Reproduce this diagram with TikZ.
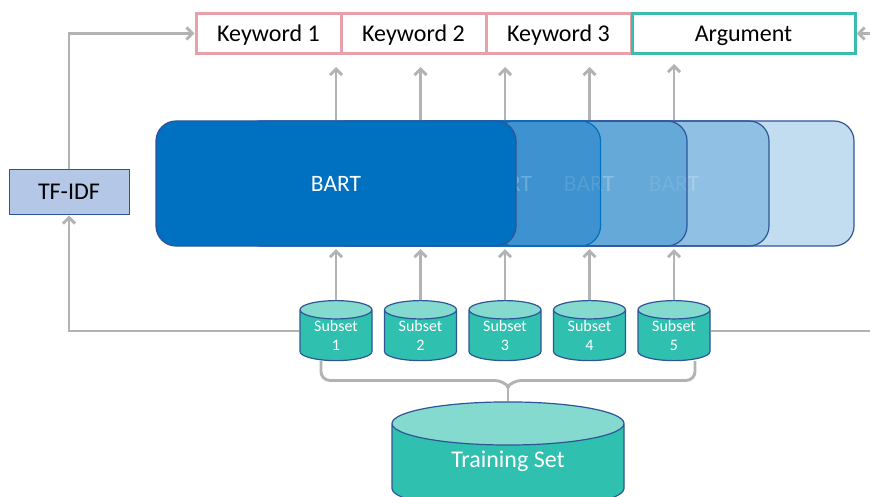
\documentclass[tikz,border=0pt]{standalone}
\usepackage{fontspec}
\setmainfont{Carlito}
\usetikzlibrary{arrows.meta,shapes.geometric,calc}
\definecolor{grayline}{HTML}{B3B3B3}
\definecolor{darkblue}{HTML}{2F5597}
\definecolor{bartblue}{HTML}{0070C0}
\definecolor{pinkb}{HTML}{E8A0AA}
\definecolor{tealb}{HTML}{3CBBAF}
\definecolor{tealbody}{HTML}{30C0B0}
\definecolor{tealtop}{HTML}{84DACF}
\definecolor{tfidf}{HTML}{B4C7E7}
\newcommand{\fsz}[1]{\fontsize{#1}{#1}\selectfont}
\tikzset{
  conn/.style={draw=grayline,line width=2.9pt},
  arr/.style={conn,-{Straight Barb[length=6pt,width=12pt,line width=2.9pt]}},
  kw/.style={draw=pinkb,line width=3pt,fill=white,minimum height=40pt,inner sep=0pt,font=\fsz{24},text=black,text height=17pt,text depth=0pt},
  arg/.style={kw,draw=tealb},
  bartbox/.style={draw=darkblue,line width=1.2pt,rounded corners=20pt,fill=bartblue,minimum width=360pt,minimum height=125pt,inner sep=0pt,text=white,font=\fsz{23.5},text height=16pt,text depth=0pt},
  cyl/.style={cylinder,shape border rotate=90,draw=darkblue,line width=1.2pt,cylinder uses custom fill,cylinder body fill=tealbody,cylinder end fill=tealtop,inner sep=0pt,text=white,align=center},
  subs/.style={cyl,minimum width=72pt,minimum height=60pt,aspect=0.42,font=\fontsize{16}{19}\selectfont},
  train/.style={cyl,minimum width=232pt,minimum height=108pt,aspect=0.38,font=\fsz{24},text height=16pt,text depth=15pt},
  tfbox/.style={draw=darkblue,line width=1pt,fill=tfidf,minimum width=120pt,minimum height=45pt,inner sep=0pt,font=\fsz{24},text=black,text height=15pt,text depth=0pt},
}
\begin{document}
\begin{tikzpicture}[x=1pt,y=-1pt]
\useasboundingbox (0,0) rectangle (870,497);
\clip (0,0) rectangle (870,497);
% keyword row
\node[kw,minimum width=145pt] (k1) at (268.5,33.5) {Keyword 1};
\node[kw,minimum width=145pt] (k2) at (413.5,33.5) {Keyword 2};
\node[kw,minimum width=145pt] (k3) at (558.5,33.5) {Keyword 3};
\node[arg,minimum width=223pt] (ag) at (743.5,33.5) {Argument};
% BART stack
\node[bartbox,fill opacity=.24,text opacity=.5] (b5) at (674,183.5) {BART};
\node[bartbox,fill opacity=.26,text opacity=.5] (b4) at (589,183.5) {BART};
\node[bartbox,fill opacity=.30,text opacity=.5] (b3) at (507,183.5) {BART};
\node[bartbox,fill opacity=.40,draw=bartblue] (b2) at (420.5,183.5) {BART};
\node[bartbox] (b1) at (336,183.5) {BART};
% TF-IDF
\node[tfbox] (tf) at (69,192.5) {TF-IDF};
% subsets
\node[subs] (s1) at (336,335.5) {Subset\\1};
\node[subs] (s2) at (420.5,335.5) {Subset\\2};
\node[subs] (s3) at (505,335.5) {Subset\\3};
\node[subs] (s4) at (589.5,335.5) {Subset\\4};
\node[subs] (s5) at (674,335.5) {Subset\\5};
\node[train] (ts) at (508,467) {Training Set};
% free ends
\coordinate (eR) at (870,331);
\coordinate (eT) at (870,33.5);
\coordinate (cnr) at (69,331);
\coordinate (cnt) at (69,33.5);
\coordinate (w1) at (336,331);
\coordinate (br1) at (321,380.5);
\coordinate (br5) at (695,380.5);
\coordinate (tipL) at (504,380.5);
\coordinate (tipR) at (512,380.5);
\coordinate (mid) at (508,386);
% arrows BART to keywords
\draw[arr,shorten >=12pt] (s1.north |- b1.north) -- (s1.north |- k1.south);
\draw[arr,shorten >=12pt] (s2.north |- b1.north) -- (s2.north |- k1.south);
\draw[arr,shorten >=12pt] (s3.north |- b1.north) -- (s3.north |- k1.south);
\draw[arr,shorten >=12pt] (s4.north |- b1.north) -- (s4.north |- k1.south);
\draw[arr,shorten >=9pt] (s5.north |- b1.north) -- (s5.north |- ag.south);
% subsets to BART
\draw[arr,shorten >=2.5pt] (s1.north) -- (s1.north |- b1.south);
\draw[arr,shorten >=2.5pt] (s2.north) -- (s2.north |- b1.south);
\draw[arr,shorten >=2.5pt] (s3.north) -- (s3.north |- b1.south);
\draw[arr,shorten >=2.5pt] (s4.north) -- (s4.north |- b1.south);
\draw[arr,shorten >=2.5pt] (s5.north) -- (s5.north |- b1.south);
% TF-IDF routes
\draw[arr] (s1.west |- w1) -- (cnr) -- (tf.south);
\draw[arr] (tf.north) -- (cnt) -- (k1.west);
\draw[conn] (s5.east |- w1) -- (eR);
\draw[arr] (eT) -- (ag.east);
% brace
\draw[conn,rounded corners=9pt] (br1 |- s1.south) -- (br1) -- (tipL) -- (mid);
\draw[conn,rounded corners=9pt] (br5 |- s5.south) -- (br5) -- (tipR) -- (mid);
\draw[conn] (mid) -- (ts.north);
\end{tikzpicture}
\end{document}
